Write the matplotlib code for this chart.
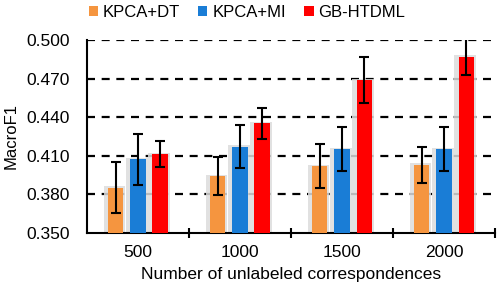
import numpy as np
import matplotlib.pyplot as plt

plt.rcParams['font.family'] = ['Liberation Sans', 'DejaVu Sans']

# datos
categorias = ["500", "1000", "1500", "2000"]
kpca_dt = [0.385, 0.394, 0.402, 0.403]
kpca_dt_err = [0.020, 0.015, 0.017, 0.014]
kpca_mi = [0.407, 0.417, 0.415, 0.415]
kpca_mi_err = [0.020, 0.017, 0.017, 0.017]
gb_htdml = [0.411, 0.435, 0.469, 0.487]
gb_htdml_err = [0.010, 0.012, 0.018, 0.014]
series = ["KPCA+DT", "KPCA+MI", "GB-HTDML"]
colores = ["#F5953F", "#1A7DD6", "#FF0000"]
yticks = [0.350, 0.380, 0.410, 0.440, 0.470, 0.500]

fig = plt.figure(figsize=(4.99, 2.90), dpi=100)
ax = fig.add_axes([0.174, 0.198, 0.818, 0.664])

x = np.arange(len(categorias))
ancho = 0.15
desp = 0.218
valores = [kpca_dt, kpca_mi, gb_htdml]
errores = [kpca_dt_err, kpca_mi_err, gb_htdml_err]

# lineas de rejilla discontinuas
for yv in yticks[1:]:
    ax.axhline(yv, color="black", lw=1.6, ls=(0, (3.6, 3.0)), zorder=1)

for i, (vals, errs, col, nom) in enumerate(zip(valores, errores, colores, series)):
    pos = x + (i - 1) * desp
    # sombra gris detras de las barras
    ax.bar(pos - 0.01, np.array(vals) - 0.35 + 0.001, width=ancho + 0.06, bottom=0.35,
           color="#dcdcdc", alpha=0.85, zorder=2, linewidth=0)
    ax.bar(pos, np.array(vals) - 0.35, width=ancho, bottom=0.35, color=col,
           zorder=3, linewidth=0, label=nom)
    ax.errorbar(pos, vals, yerr=errs, fmt="none", ecolor="black",
                elinewidth=1.5, capsize=3.3, capthick=1.5, zorder=4)

ax.set_ylim(0.35, 0.50)
ax.set_xlim(-0.5, 3.5)
ax.set_yticks(yticks)
ax.set_yticklabels(["%.3f" % v for v in yticks], fontsize=12.5)
ax.tick_params(axis="y", length=0, pad=12)

ax.set_xticks(x + 0.5)
ax.set_xticklabels([])
ax.set_xticks(x, minor=True)
ax.set_xticklabels(categorias, minor=True, fontsize=12.5)
ax.tick_params(axis="x", which="major", direction="inout", length=7, width=1.5)
ax.tick_params(axis="x", which="minor", length=0, pad=9)

for lado in ["top", "right"]:
    ax.spines[lado].set_visible(False)
ax.spines["left"].set_linewidth(1.5)
ax.spines["bottom"].set_linewidth(1.5)

ax.set_xlabel("Number of unlabeled correspondences", fontsize=12.5, labelpad=5)
ax.set_ylabel("MacroF1", fontsize=12, labelpad=6)

fig.legend(loc="center", bbox_to_anchor=(0.495, 0.958), ncol=3, frameon=False,
           fontsize=12, handlelength=0.55, handleheight=0.55, handletextpad=0.3,
           columnspacing=1.1)

fig.savefig("out.png", dpi=100)
